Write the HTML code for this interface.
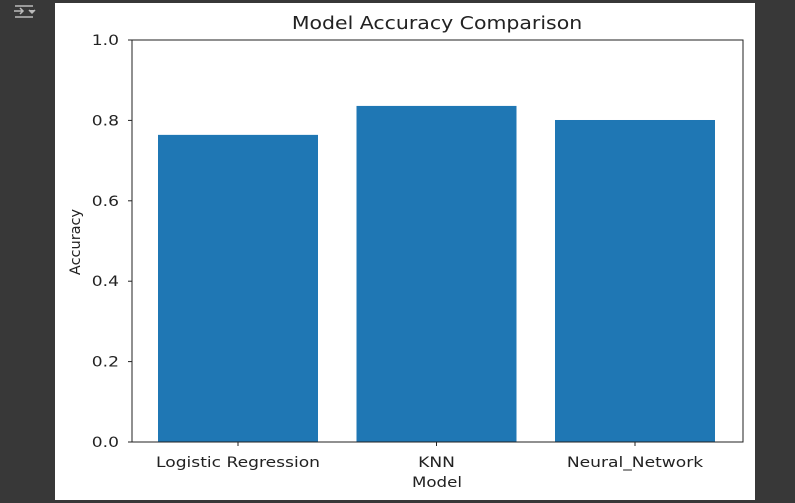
<!DOCTYPE html>
<html><head><meta charset="utf-8"><style>
body{margin:0;width:795px;height:503px;background:#383838;overflow:hidden;font-family:"DejaVu Sans","Liberation Sans",sans-serif}
svg{position:absolute;left:0;top:0}
</style></head><body>
<svg width="795" height="503">
<rect x="55" y="3" width="700" height="497" fill="#ffffff"/>
<g stroke="#bbb" stroke-width="1.5" fill="none">
<path d="M15 6h18M14 11h9M20 8l3 3-3 3M15 17h18"/><path d="M29 10l3 3 3-3" fill="#bbb"/>
</g>
<text transform="translate(437,29) scale(1.17,1)" font-size="17.5" text-anchor="middle" fill="#222">Model Accuracy Comparison</text>
<g id="bars"></g>
<rect x="132" y="40" width="611" height="402" fill="none" stroke="#222" stroke-width="1"/>
<g id="yticks" font-size="14.5" fill="#222"></g>
<g id="xticks" font-size="14.5" fill="#222"></g>
<text transform="translate(437,487) scale(1.15,1)" font-size="14.5" text-anchor="middle" fill="#222">Model</text>
<text transform="translate(80,242) rotate(-90)" font-size="14.5" text-anchor="middle" fill="#222">Accuracy</text>
</svg>
<script>
const categories=["Logistic Regression","KNN","Neural_Network"];
const accuracies=[0.764,0.836,0.801];
const yTickLabels=["0.0","0.2","0.4","0.6","0.8","1.0"];
const yTickValues=[0,0.2,0.4,0.6,0.8,1.0];
const NS="http://www.w3.org/2000/svg";
const y=v=>442-v*402;
const x=i=>238+i*198.5;
const bw=160;
const bars=document.getElementById('bars'),yt=document.getElementById('yticks'),xt=document.getElementById('xticks');
accuracies.forEach((v,i)=>{
 const r=document.createElementNS(NS,'rect');
 r.setAttribute('x',x(i)-bw/2);r.setAttribute('y',y(v));r.setAttribute('width',bw);r.setAttribute('height',y(0)-y(v));r.setAttribute('fill','#1f77b4');
 
 
 bars.appendChild(r);
 const l=document.createElementNS(NS,'line');
 l.setAttribute('x1',x(i));l.setAttribute('x2',x(i));l.setAttribute('y1',442);l.setAttribute('y2',446);l.setAttribute('stroke','#222');
 
 
 xt.appendChild(l);
 const t=document.createElementNS(NS,'text');
 t.setAttribute('transform','translate('+x(i)+',467) scale(1.18,1)');t.setAttribute('text-anchor','middle');t.textContent=categories[i];
 
 
 xt.appendChild(t);
});
yTickValues.forEach((v,i)=>{
 const l=document.createElementNS(NS,'line');
 l.setAttribute('x1',128);l.setAttribute('x2',132);l.setAttribute('y1',y(v));l.setAttribute('y2',y(v));l.setAttribute('stroke','#222');
 
 
 yt.appendChild(l);
 const t=document.createElementNS(NS,'text');
 t.setAttribute('transform','translate(119,'+(y(v)+5)+') scale(1.18,1)');t.setAttribute('text-anchor','end');t.textContent=yTickLabels[i];
 
 
 yt.appendChild(t);
});
</script>
</body></html>
